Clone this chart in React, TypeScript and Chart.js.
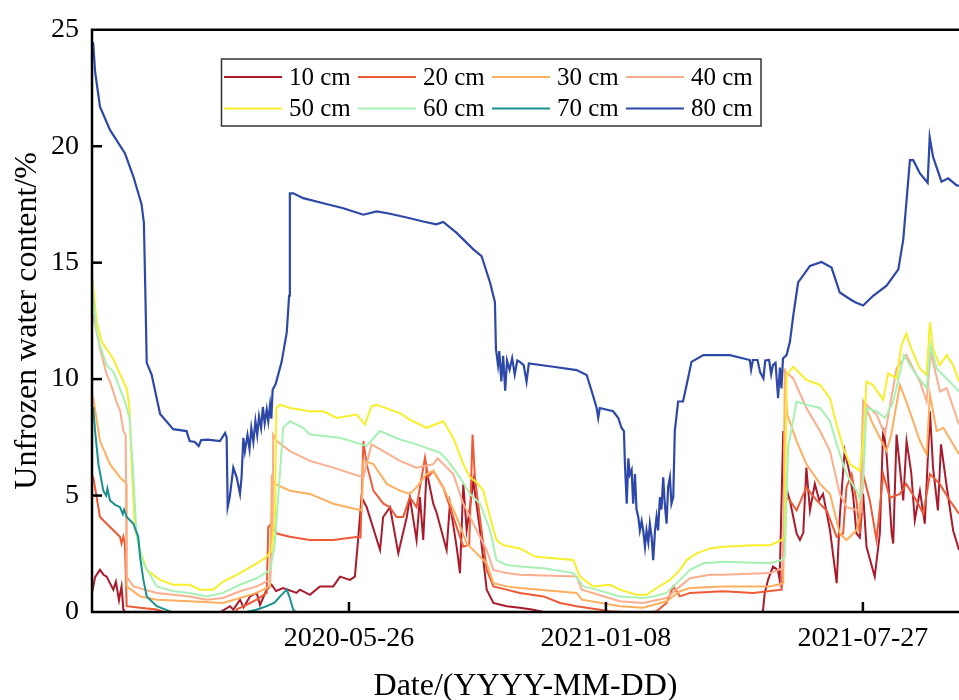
import React, { useEffect, useRef } from 'react';
import { Chart, registerables } from 'chart.js';

Chart.register(...registerables);

// x is a sample position along the record; ticks sit at 100, 200, 300
const xMin = 0;
const xMax = 337.4;
const xTickPositions = [100, 200, 300];
const xTickLabels = ['2020-05-26', '2021-01-08', '2021-07-27'];
const yMin = 0;
const yMax = 25;
const yStep = 5;

const depthLabels = ['10 cm', '20 cm', '30 cm', '40 cm', '50 cm', '60 cm', '70 cm', '80 cm'];
const seriesColors = ['#A91B2B', '#EE5A36', '#FDAF5F', '#FBAE8E', '#F7EE2C', '#A8F0B4', '#1A918E', '#2D48A6'];

const d10: number[][] = [[0,0.8],[1.2,1.5],[3.1,1.81],[4.5,1.6],[5.7,1.52],[8.3,0.96],[9.3,1.3],[10.5,0.5],[11,0.82],[11.5,1.1],[12.2,0.1],[13,0],[50,0],[53.7,0.25],[55,0.1],[57.6,0.53],[59,0.2],[61.5,0.67],[64.1,0.82],[65.4,0.3],[68,0.96],[69.9,1.17],[71.6,0.9],[74.4,1.03],[79.6,0.82],[80.9,0.96],[84.8,0.74],[88.7,1.1],[93.9,1.1],[96.5,1.52],[100.4,1.38],[102.3,1.52],[103.6,3.16],[104.9,4.93],[106.9,4.5],[112.1,2.66],[113.3,4.08],[116,4.5],[119.2,2.52],[122.5,4.08],[123.7,4.93],[126.3,3.09],[127.6,4.93],[128.9,3.09],[130.2,6.06],[132.8,4.65],[134,4.3],[138,2.66],[139.3,4.65],[141.9,2.8],[143.2,1.67],[144.5,5.5],[145.8,3.51],[147.1,4.5],[148.4,5.64],[151,3.51],[153.6,0.96],[156.2,0.39],[161.4,0.25],[166.5,0.18],[171.7,0.1],[175.7,0],[260.5,0],[261.1,0.03],[261.8,0.82],[263.1,1.38],[265,1.95],[266.9,1.81],[267.6,1.38],[269,7.77],[269.6,5.5],[271.6,4.79],[274.2,3.37],[275.5,3.09],[276.8,3.4],[278,6.2],[279.4,4.36],[281.3,5.5],[283,4.8],[284.5,5.07],[287.2,3.51],[289.8,1.24],[291,4.08],[292.9,6.91],[294.9,5.92],[296.2,5.0],[297.5,3.37],[298.8,3.2],[300.1,5.07],[301.4,2.8],[304.6,1.52],[306.6,3.37],[307.9,7.91],[309.2,6.8],[311.2,3.37],[311.8,2.94],[313.1,7.62],[314.4,6.2],[315.7,4.79],[317,7.34],[318.8,6.0],[320.2,3.94],[322.2,5.2],[324.1,3.79],[326.1,8.62],[327.3,6.2],[329.2,4.36],[330.4,7.2],[332.6,5.4],[335.1,3.51],[337.4,2.66]];

const d20: number[][] = [[0,5.9],[0.5,5.78],[3.1,4.08],[7,3.65],[10.9,3.23],[11.5,2.94],[12.2,3.23],[12.8,2.94],[13.5,0.25],[18.7,0.18],[25.2,0.11],[28,0],[56,0],[56.3,0.11],[60,0.3],[64.1,0.53],[68,0.82],[68.6,3.65],[69.9,3.79],[71.9,3.37],[77,3.23],[84.8,3.09],[93.9,3.09],[103.6,3.23],[104.5,3.2],[105.6,7.34],[106.9,6.35],[109.5,5.21],[113.4,4.65],[115.9,4.5],[118.5,4.08],[121.1,4.08],[123.7,4.93],[126.3,4.5],[129.6,6.63],[130.8,5.8],[132.8,6.06],[136.7,5.35],[140.6,4.08],[144.5,2.8],[146.8,2.9],[148.1,7.62],[149,5.8],[150.9,4.08],[153.6,1.81],[156.2,1.1],[161.3,0.96],[166.5,0.82],[175.7,0.67],[182.2,0.39],[188.6,0.25],[201.6,0.03],[207,0],[218,0],[219.7,0.03],[223.6,0.39],[226.2,1.1],[228.8,0.67],[232.7,0.82],[245.6,0.89],[257.3,0.82],[268.4,0.96],[269.9,4.93],[271.6,4.79],[274.2,4.36],[278,5.35],[282,4.79],[285.9,4.36],[289.8,3.23],[292.3,3.37],[293.6,5.35],[295.6,5.92],[297.5,4.79],[298.8,3.37],[300.1,5.92],[302.7,4.79],[305.3,3.09],[307.9,5.92],[310.5,4.9],[314.4,5.07],[316.9,5.5],[320.8,4.79],[323.5,4.22],[326.1,5.92],[329.9,5.5],[333.8,4.79],[337.4,4.22]];

const d30: number[][] = [[0,9.3],[0.5,9.18],[3.1,7.34],[7,6.35],[10.9,5.78],[12.8,5.57],[13.4,5.5],[13.5,1.1],[18.7,0.67],[25.2,0.53],[38,0.46],[51,0.39],[57.6,0.6],[64.1,0.82],[69.3,1.1],[70,5.78],[71.2,5.5],[77,5.21],[84.8,5.07],[93.9,4.65],[105,4.36],[105.6,6.49],[109.5,6.35],[114.7,5.5],[119.8,5.21],[123.7,5.07],[126.3,5.35],[130.2,5.92],[132.8,6.06],[136.7,5.35],[141.9,4.08],[145.8,2.94],[153.6,2.09],[156.2,1.24],[161.3,1.1],[166.5,1.03],[188.6,0.82],[190.6,0.53],[205.4,0.25],[214.5,0.18],[223.6,0.46],[228.8,0.89],[232.7,1.03],[245.6,1.1],[263.8,1.1],[269,1.24],[269.6,10.46],[270.5,8.5],[274.2,7.34],[278,6.35],[283.3,5.5],[287.2,5.07],[291,3.37],[293.6,3.09],[297.5,3.51],[298.8,4.08],[300.1,9.04],[304,8.05],[309.2,6.91],[311,7.6],[314.4,9.75],[316.9,9.04],[322.2,7.34],[324.8,6.77],[326.1,9.33],[328.7,7.77],[331.3,7.91],[335.1,7.2],[337.4,6.77]];

const d40: number[][] = [[0,12.8],[0.5,12.73],[3.1,11.31],[5.7,10.2],[7,9.89],[9.6,9.0],[11,8.62],[12.2,7.77],[13.1,7.6],[13.5,1.52],[16.1,1.1],[25.2,0.82],[38,0.67],[44.6,0.53],[51,0.6],[57.6,0.89],[64.1,1.1],[69.3,1.38],[70.3,3.51],[70.5,7.62],[71.9,7.34],[77,6.91],[84.8,6.49],[93.9,6.2],[105.6,5.78],[108.8,7.2],[113.4,6.91],[119.8,6.49],[126.3,6.2],[132.8,6.35],[134.5,6.6],[140.6,5.92],[144.5,4.65],[148.4,3.79],[153.6,2.66],[156.2,1.81],[161.3,1.67],[166.5,1.6],[188.6,1.52],[190.6,0.96],[205.4,0.46],[214.5,0.39],[223.6,0.6],[228.8,1.1],[232.7,1.45],[240.5,1.6],[245.6,1.6],[263.8,1.67],[269,1.88],[269.9,10.32],[272.9,10.03],[278,8.76],[283.3,7.77],[287.2,6.91],[291,5.07],[293.6,4.5],[298.2,4.36],[299.5,4.3],[300.1,9.04],[305.3,8.48],[308.6,7.62],[313.1,10.46],[316.9,11.03],[322.2,9.89],[324.8,9.04],[326.4,11.17],[330,9.47],[332.6,9.61],[337.4,8.05]];

const d50: number[][] = [[0,14.5],[1.8,12.45],[3.8,11.6],[8.2,10.89],[12.2,9.89],[13.5,9.61],[14.6,8.76],[15.4,6.35],[16.7,3.65],[18.7,2.66],[21.3,1.81],[26.5,1.38],[31.6,1.17],[38,1.17],[42,0.96],[47.2,0.96],[51.1,1.31],[57.6,1.67],[64.1,2.09],[68,2.37],[69.9,2.66],[71.2,4.08],[71.7,8.76],[73.2,8.9],[77,8.76],[84.8,8.62],[90,8.62],[95.2,8.33],[103,8.48],[106.2,8.05],[108.8,8.83],[110.8,8.9],[116,8.69],[119.8,8.54],[123.7,8.26],[130.2,7.91],[136.7,8.19],[140.6,7.48],[144.5,6.35],[147.1,5.78],[149.7,5.57],[152.3,5.21],[154.9,4.08],[157.4,3.09],[160,2.87],[166.5,2.73],[172.7,2.37],[187.3,2.23],[189.9,1.52],[195,1.1],[201.6,1.17],[205.4,0.96],[211.9,0.74],[215.8,0.74],[219.7,1.03],[224.9,1.38],[228.8,1.81],[231.4,2.23],[235.3,2.52],[240.5,2.73],[245.6,2.8],[257.3,2.87],[263.8,2.87],[268.4,3.09],[269.6,3.23],[270.3,10.18],[272.9,10.53],[278,9.97],[283.3,9.75],[287.2,9.18],[289.1,8.33],[292.3,7.06],[294.9,6.35],[298.8,6.06],[300.1,7.34],[301.4,9.89],[303.9,9.75],[307.9,9.11],[309.8,10.25],[313.1,10.03],[315,11.45],[316.9,11.95],[318.8,11.31],[322.2,10.46],[324.8,10.18],[326.1,12.45],[327.3,11.31],[329.9,10.6],[332.6,11.03],[335.1,10.6],[337.4,9.89]];

const d60: number[][] = [[0,14.0],[1.8,12.02],[3.1,11.45],[5.7,10.6],[8.3,10.32],[12.8,9.04],[14.6,8.33],[15.8,6.35],[17.4,3.23],[20,2.09],[25.2,1.1],[31.6,0.89],[38,0.82],[44.6,0.67],[51,0.82],[57.6,1.17],[64.1,1.45],[69.3,1.81],[71,2.8],[73.2,6.06],[74.4,7.91],[77,8.19],[82.2,7.91],[84.8,7.62],[96.5,7.48],[106.9,7.13],[112,7.77],[119.8,7.41],[126.3,7.2],[135.4,6.84],[138,6.56],[143.2,5.78],[147.1,5.07],[151,4.65],[154.9,3.51],[157.4,2.23],[161.3,2.02],[166.5,1.95],[175.7,1.88],[187.3,1.67],[191.2,1.1],[196.4,0.96],[205.4,0.67],[214.5,0.6],[218.4,0.67],[223.6,0.82],[228.8,1.38],[232.7,1.81],[237.9,2.09],[245.6,2.16],[263.8,2.09],[268.4,2.23],[269.6,2.37],[270.9,7.06],[274.2,9.04],[278,8.9],[283.3,8.76],[287.2,8.19],[289.8,7.2],[293.6,5.92],[297.5,5.21],[298.8,4.86],[300.1,5.64],[301.4,8.76],[305.3,8.62],[308.6,8.33],[311.8,9.04],[316,11.03],[319.9,10.32],[324.8,9.61],[326.4,11.45],[328.7,10.46],[332.6,10.03],[337.4,9.47]];

const d70: number[][] = [[0,8.8],[0.5,8.76],[1.2,7.77],[2.5,6.35],[4.4,5.21],[5.5,5.0],[6,5.3],[7,4.79],[9,4.6],[10.9,4.5],[12,4.2],[12.5,4.4],[13.5,4.08],[16.1,3.79],[18,3.23],[18.7,2.37],[20,1.38],[21.3,0.67],[25.2,0.25],[30.4,0.03],[31,0],[60,0],[64,0.1],[68,0.25],[71,0.4],[73.2,0.67],[75.8,0.96],[77,0.6],[78.3,0.1],[79.4,0],[337.4,0]];

const d80: number[][] = [[0,24.5],[0.5,24.4],[1.2,23.2],[3.1,21.7],[7,20.7],[12.8,19.7],[16.1,18.7],[19.3,17.5],[20.2,16.7],[20.6,14.6],[21.3,10.7],[23.2,10.2],[26.5,8.5],[31.6,7.85],[36.8,7.77],[38,7.34],[40,7.3],[41.5,7.13],[42.5,7.38],[45,7.4],[49.8,7.34],[51.8,7.69],[52.4,7.5],[52.8,4.5],[53.6,4.93],[55,6.2],[56.3,5.78],[57.6,5.08],[58.2,5.78],[58.9,7.48],[59.5,6.9],[60.5,7.6],[61.3,7.0],[62,7.9],[62.8,7.3],[63.6,8.2],[64.3,7.6],[65,8.4],[65.8,7.9],[66.5,8.8],[67.2,8.1],[68,8.7],[68.6,8.2],[69.3,8.9],[69.8,8.3],[70.3,9.54],[71.5,9.8],[73.8,10.74],[75.8,12.02],[76.7,13.58],[77,17.98],[78.3,17.98],[82.2,17.77],[90,17.55],[97.8,17.34],[105.6,17.06],[110.8,17.2],[116,17.1],[123.7,16.91],[128.9,16.77],[134,16.65],[136.7,16.75],[141.9,16.28],[148.4,15.57],[151.6,15.28],[154.9,14.15],[156.8,13.3],[157.2,11.3],[158,10.6],[158.5,11.2],[159.3,9.9],[160,11.0],[160.8,9.5],[161.5,10.8],[162.5,10.4],[163.5,10.9],[164.5,10.2],[165.5,10.8],[166.5,10.74],[168,10.6],[169.1,9.89],[170,10.67],[179.5,10.53],[188.6,10.39],[192.5,10.18],[194.5,9.47],[196.4,8.76],[197,8.33],[197.6,8.76],[202.8,8.62],[204.8,8.33],[206.1,7.9],[207,7.77],[207.4,6.35],[208.1,4.65],[208.7,6.6],[209.3,5.9],[210,6.1],[210.6,4.65],[211.3,5.92],[211.9,4.4],[212.6,4.08],[213.2,3.5],[213.9,3.9],[214.5,3.51],[215.2,2.8],[215.8,3.5],[216.5,3.0],[217.1,3.79],[217.8,3.2],[218.4,2.23],[219.1,3.5],[219.7,4.08],[220.3,3.5],[221,4.93],[221.6,4.4],[222.3,5.78],[222.9,4.65],[223.6,3.79],[224.2,5.36],[224.9,5.78],[225.5,4.65],[226.2,4.93],[226.8,7.77],[228.1,9.04],[230,9.04],[231.4,9.75],[233.3,10.74],[237.9,11.03],[248.2,11.03],[256,10.82],[256.5,10.4],[257.2,10.82],[259,10.82],[260,10.3],[261.3,10.03],[262,10.8],[263.5,10.82],[264.3,10.2],[265,10.6],[266,10.7],[267,9.18],[267.7,10.5],[268.3,9.6],[268.9,10.89],[270.3,11.03],[271.6,11.6],[272.9,12.73],[274.8,14.15],[279.4,14.86],[283.9,15.03],[287.8,14.79],[291,13.72],[294.9,13.44],[297,13.3],[300.1,13.16],[304,13.58],[309.2,14.01],[313.8,14.71],[315.7,15.99],[317,17.69],[318.3,19.4],[319.6,19.4],[322.2,18.83],[325.2,18.43],[326,20.39],[327.3,19.54],[330.6,18.48],[333.2,18.62],[336.4,18.33],[337.4,18.3]];

const seriesData = [d10, d20, d30, d40, d50, d60, d70, d80];

const FONT = '"Liberation Serif", "Times New Roman", serif';

const framePlugin = {
  id: 'framePlugin',
  afterDatasetsDraw(chart: any) {
    const { ctx, chartArea } = chart;
    const { left, right, top, bottom } = chartArea;
    const xs = chart.scales.x;
    const ys = chart.scales.y;
    ctx.save();
    ctx.strokeStyle = '#000';
    ctx.lineWidth = 2.5;
    ctx.lineCap = 'butt';
    ys.ticks.forEach((t: any) => {
      const p = ys.getPixelForValue(t.value);
      if (t.value <= yMin || t.value >= yMax) return;
      ctx.beginPath();
      ctx.moveTo(left, p);
      ctx.lineTo(left + 10, p);
      ctx.stroke();
    });
    xs.ticks.forEach((t: any) => {
      const p = xs.getPixelForValue(t.value);
      ctx.beginPath();
      ctx.moveTo(p, bottom);
      ctx.lineTo(p, bottom - 10);
      ctx.stroke();
    });
    ctx.beginPath();
    ctx.moveTo(left, top);
    ctx.lineTo(right, top);
    ctx.moveTo(left, top - 1.25);
    ctx.lineTo(left, bottom + 1.25);
    ctx.moveTo(left - 1.25, bottom);
    ctx.lineTo(right, bottom);
    ctx.stroke();
    ctx.restore();
  },
  afterDraw(chart: any) {
    const { ctx } = chart;
    ctx.save();
    const bx = 221.5, by = 59, bw = 539.5, bh = 67;
    ctx.fillStyle = '#fff';
    ctx.fillRect(bx, by, bw, bh);
    ctx.strokeStyle = '#333';
    ctx.lineWidth = 1.5;
    ctx.strokeRect(bx, by, bw, bh);
    ctx.font = `25px ${FONT}`;
    ctx.textBaseline = 'middle';
    ctx.textAlign = 'left';
    chart.data.datasets.forEach((ds: any, i: number) => {
      const row = Math.floor(i / 4);
      const col = i % 4;
      const x = 224 + col * 134;
      const y = row === 0 ? 77 : 108.5;
      ctx.strokeStyle = ds.borderColor;
      ctx.lineWidth = 2;
      ctx.beginPath();
      ctx.moveTo(x, y);
      ctx.lineTo(x + 58, y);
      ctx.stroke();
      ctx.fillStyle = '#000';
      ctx.fillText(ds.label, x + 65, y + 1);
    });
    ctx.restore();
  },
};

export default function App() {
  const canvasRef = useRef<HTMLCanvasElement | null>(null);

  useEffect(() => {
    document.body.style.margin = '0';
    const canvas = canvasRef.current;
    if (!canvas) return;
    const datasets = seriesData.map((s, i) => ({
      label: depthLabels[i],
      data: s.map(([x, y]) => ({ x, y })),
      borderColor: seriesColors[i],
      backgroundColor: seriesColors[i],
      borderWidth: i === 7 ? 2.2 : 2,
      pointRadius: 0,
      tension: 0,
      fill: false,
      order: 7 - i,
    }));
    const chart = new Chart(canvas, {
      type: 'line',
      data: { datasets },
      options: {
        animation: false,
        responsive: false,
        devicePixelRatio: 1,
        layout: { padding: { top: 25, right: 0, bottom: 0, left: 0 } },
        plugins: { legend: { display: false }, tooltip: { enabled: false } },
        scales: {
          x: {
            type: 'linear',
            min: xMin,
            max: xMax,
            afterBuildTicks: (scale: any) => {
              scale.ticks = xTickPositions.map((v) => ({ value: v }));
            },
            afterFit: (scale: any) => {
              scale.height = 88;
            },
            ticks: {
              autoSkip: false,
              maxRotation: 0,
              padding: 10,
              color: '#000',
              font: { family: FONT, size: 28, lineHeight: 1.2 },
              callback: (value: any) => {
                const k = xTickPositions.indexOf(Number(value));
                return k >= 0 ? xTickLabels[k] : '';
              },
            },
            grid: { display: false, drawTicks: false },
            border: { display: false },
            title: {
              display: true,
              text: 'Date/(YYYY-MM-DD)',
              color: '#000',
              font: { family: FONT, size: 32, lineHeight: 0.85 },
              padding: { top: 0, bottom: 0 },
            },
          },
          y: {
            type: 'linear',
            min: yMin,
            max: yMax,
            afterFit: (scale: any) => {
              scale.width = 92;
            },
            ticks: {
              stepSize: yStep,
              padding: 13,
              color: '#000',
              font: { family: FONT, size: 28, lineHeight: 1.2 },
            },
            grid: { display: false, drawTicks: false },
            border: { display: false },
            title: {
              display: true,
              text: 'Unfrozen water content/%',
              color: '#000',
              font: { family: FONT, size: 32, lineHeight: 1.2 },
              padding: { top: 8, bottom: 0 },
            },
          },
        },
      },
      plugins: [framePlugin],
    } as any);
    return () => chart.destroy();
  }, []);

  return (
    <div style={{ width: 959, height: 700, background: '#fff' }}>
      <canvas ref={canvasRef} width={959} height={700} style={{ display: 'block', width: 959, height: 700 }} />
    </div>
  );
}
